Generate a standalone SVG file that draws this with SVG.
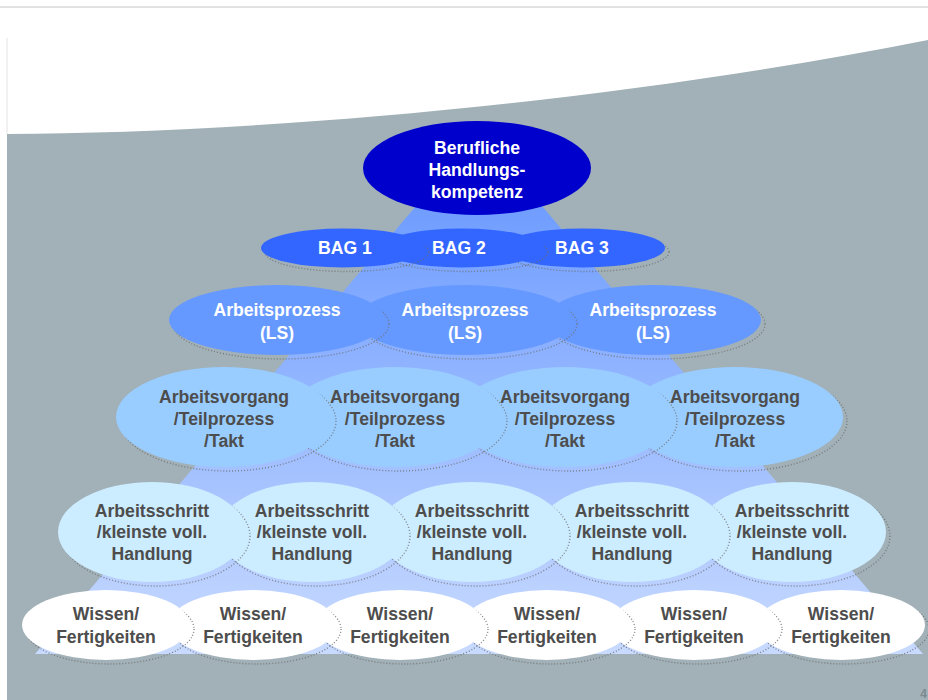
<svg xmlns="http://www.w3.org/2000/svg" width="928" height="700" viewBox="0 0 928 700">
<defs>
<linearGradient id="pyr" x1="0" y1="132" x2="0" y2="654" gradientUnits="userSpaceOnUse">
<stop offset="0" stop-color="#6193ff"/>
<stop offset="1" stop-color="#c8daff"/>
</linearGradient>
<style>
.sh{fill:none;stroke:#6e6e6e;stroke-width:1.4;stroke-dasharray:1 2;opacity:0.8}
.t{font-family:"Liberation Sans",Arial,sans-serif;font-weight:bold;font-size:17.6px;text-anchor:middle}
.w{fill:#ffffff}
.d{fill:#4d4d4d}
</style>
</defs>
<rect x="0" y="0" width="928" height="700" fill="#ffffff"/>
<line x1="0" y1="7" x2="928" y2="7" stroke="#d9d9d9" stroke-width="1.5"/>
<line x1="7" y1="38" x2="7" y2="134" stroke="#e3e3e3" stroke-width="1"/>
<path d="M7,134 C250,133 600,105 928,40 L928,700 L7,700 Z" fill="#a1b1b7"/>
<polygon id="pyramid" points="479,132 923,654 35,654" fill="url(#pyr)"/>

<g id="berufliche">
<ellipse cx="477" cy="168" rx="114" ry="47" fill="#0000cc"/>
<text class="t w" x="477" y="154">Berufliche</text>
<text class="t w" x="477" y="176">Handlungs-</text>
<text class="t w" x="477" y="198">kompetenz</text>
</g>

<g id="bag3">
<ellipse class="sh" cx="587" cy="252" rx="82" ry="19.5"/>
<ellipse cx="583" cy="248" rx="82" ry="19.5" fill="#3366ff"/>
<text class="t w" x="582" y="254">BAG 3</text>
</g>
<g id="bag2">
<ellipse class="sh" cx="466" cy="252" rx="82" ry="19.5"/>
<ellipse cx="462" cy="248" rx="82" ry="19.5" fill="#3366ff"/>
<text class="t w" x="459" y="254">BAG 2</text>
</g>
<g id="bag1">
<ellipse class="sh" cx="347" cy="252" rx="82" ry="19.5"/>
<ellipse cx="343" cy="248" rx="82" ry="19.5" fill="#3366ff"/>
<text class="t w" x="345" y="254">BAG 1</text>
</g>

<g id="ap3">
<ellipse class="sh" cx="657" cy="324" rx="108" ry="35"/>
<ellipse cx="653" cy="320" rx="108" ry="35" fill="#6699ff"/>
<text class="t w" x="653" y="316">Arbeitsprozess</text>
<text class="t w" x="653" y="339">(LS)</text>
</g>
<g id="ap2">
<ellipse class="sh" cx="469" cy="324" rx="108" ry="35"/>
<ellipse cx="465" cy="320" rx="108" ry="35" fill="#6699ff"/>
<text class="t w" x="465" y="316">Arbeitsprozess</text>
<text class="t w" x="465" y="339">(LS)</text>
</g>
<g id="ap1">
<ellipse class="sh" cx="281" cy="324" rx="108" ry="35"/>
<ellipse cx="277" cy="320" rx="108" ry="35" fill="#6699ff"/>
<text class="t w" x="277" y="316">Arbeitsprozess</text>
<text class="t w" x="277" y="339">(LS)</text>
</g>

<g id="av4">
<ellipse class="sh" cx="739" cy="421" rx="108" ry="50"/>
<ellipse cx="735" cy="417" rx="108" ry="50" fill="#99ccff"/>
<text class="t d" x="735" y="403">Arbeitsvorgang</text>
<text class="t d" x="735" y="425">/Teilprozess</text>
<text class="t d" x="735" y="447">/Takt</text>
</g>
<g id="av3">
<ellipse class="sh" cx="569" cy="421" rx="108" ry="50"/>
<ellipse cx="565" cy="417" rx="108" ry="50" fill="#99ccff"/>
<text class="t d" x="565" y="403">Arbeitsvorgang</text>
<text class="t d" x="565" y="425">/Teilprozess</text>
<text class="t d" x="565" y="447">/Takt</text>
</g>
<g id="av2">
<ellipse class="sh" cx="399" cy="421" rx="108" ry="50"/>
<ellipse cx="395" cy="417" rx="108" ry="50" fill="#99ccff"/>
<text class="t d" x="395" y="403">Arbeitsvorgang</text>
<text class="t d" x="395" y="425">/Teilprozess</text>
<text class="t d" x="395" y="447">/Takt</text>
</g>
<g id="av1">
<ellipse class="sh" cx="228" cy="421" rx="108" ry="50"/>
<ellipse cx="224" cy="417" rx="108" ry="50" fill="#99ccff"/>
<text class="t d" x="224" y="403">Arbeitsvorgang</text>
<text class="t d" x="224" y="425">/Teilprozess</text>
<text class="t d" x="224" y="447">/Takt</text>
</g>

<g id="as5">
<ellipse class="sh" cx="796" cy="536" rx="94" ry="50"/>
<ellipse cx="792" cy="532" rx="94" ry="50" fill="#ccecff"/>
<text class="t d" x="792" y="517">Arbeitsschritt</text>
<text class="t d" x="792" y="538">/kleinste voll.</text>
<text class="t d" x="792" y="560">Handlung</text>
</g>
<g id="as4">
<ellipse class="sh" cx="636" cy="536" rx="94" ry="50"/>
<ellipse cx="632" cy="532" rx="94" ry="50" fill="#ccecff"/>
<text class="t d" x="632" y="517">Arbeitsschritt</text>
<text class="t d" x="632" y="538">/kleinste voll.</text>
<text class="t d" x="632" y="560">Handlung</text>
</g>
<g id="as3">
<ellipse class="sh" cx="476" cy="536" rx="94" ry="50"/>
<ellipse cx="472" cy="532" rx="94" ry="50" fill="#ccecff"/>
<text class="t d" x="472" y="517">Arbeitsschritt</text>
<text class="t d" x="472" y="538">/kleinste voll.</text>
<text class="t d" x="472" y="560">Handlung</text>
</g>
<g id="as2">
<ellipse class="sh" cx="316" cy="536" rx="94" ry="50"/>
<ellipse cx="312" cy="532" rx="94" ry="50" fill="#ccecff"/>
<text class="t d" x="312" y="517">Arbeitsschritt</text>
<text class="t d" x="312" y="538">/kleinste voll.</text>
<text class="t d" x="312" y="560">Handlung</text>
</g>
<g id="as1">
<ellipse class="sh" cx="156" cy="536" rx="94" ry="50"/>
<ellipse cx="152" cy="532" rx="94" ry="50" fill="#ccecff"/>
<text class="t d" x="152" y="517">Arbeitsschritt</text>
<text class="t d" x="152" y="538">/kleinste voll.</text>
<text class="t d" x="152" y="560">Handlung</text>
</g>

<g id="wf6">
<ellipse class="sh" cx="845" cy="629" rx="84" ry="35"/>
<ellipse cx="841" cy="625" rx="84" ry="35" fill="#ffffff"/>
<text class="t d" x="841" y="620">Wissen/</text>
<text class="t d" x="841" y="643">Fertigkeiten</text>
</g>
<g id="wf5">
<ellipse class="sh" cx="698" cy="629" rx="84" ry="35"/>
<ellipse cx="694" cy="625" rx="84" ry="35" fill="#ffffff"/>
<text class="t d" x="694" y="620">Wissen/</text>
<text class="t d" x="694" y="643">Fertigkeiten</text>
</g>
<g id="wf4">
<ellipse class="sh" cx="551" cy="629" rx="84" ry="35"/>
<ellipse cx="547" cy="625" rx="84" ry="35" fill="#ffffff"/>
<text class="t d" x="547" y="620">Wissen/</text>
<text class="t d" x="547" y="643">Fertigkeiten</text>
</g>
<g id="wf3">
<ellipse class="sh" cx="404" cy="629" rx="84" ry="35"/>
<ellipse cx="400" cy="625" rx="84" ry="35" fill="#ffffff"/>
<text class="t d" x="400" y="620">Wissen/</text>
<text class="t d" x="400" y="643">Fertigkeiten</text>
</g>
<g id="wf2">
<ellipse class="sh" cx="257" cy="629" rx="84" ry="35"/>
<ellipse cx="253" cy="625" rx="84" ry="35" fill="#ffffff"/>
<text class="t d" x="253" y="620">Wissen/</text>
<text class="t d" x="253" y="643">Fertigkeiten</text>
</g>
<g id="wf1">
<ellipse class="sh" cx="110" cy="629" rx="84" ry="35"/>
<ellipse cx="106" cy="625" rx="84" ry="35" fill="#ffffff"/>
<text class="t d" x="106" y="620">Wissen/</text>
<text class="t d" x="106" y="643">Fertigkeiten</text>
</g>

<g id="connectors"/>
<text x="927" y="698" font-family="Liberation Sans, Arial, sans-serif" font-weight="bold" font-size="12" fill="#7c8a90" text-anchor="end">4</text>
</svg>
